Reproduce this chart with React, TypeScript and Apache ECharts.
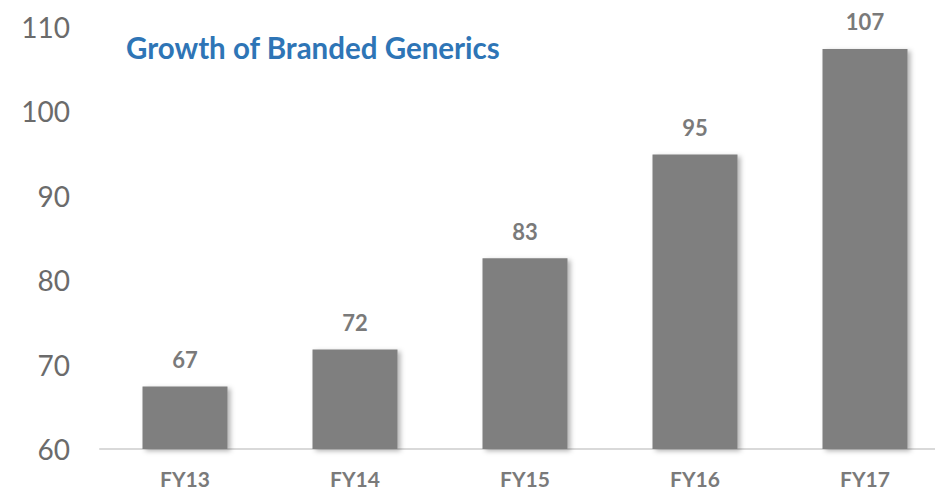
import React, { useEffect, useRef } from "react";
import * as echarts from "echarts";

const categories = ["FY13", "FY14", "FY15", "FY16", "FY17"];
const values = [67.4, 71.8, 82.6, 94.9, 107.4];
const labels = ["67", "72", "83", "95", "107"];
const titleText = "Growth of Branded Generics";

export default function App() {
  const ref = useRef<HTMLDivElement>(null);
  useEffect(() => {
    const chart = echarts.init(ref.current!, null, { renderer: "svg" });
    chart.setOption({
      animation: false,
      title: {
        text: titleText,
        left: 121,
        top: 27,
        textStyle: { fontFamily: "Lato", fontWeight: "bold", fontSize: 29.5, color: "#2E75B6" },
      },
      grid: { left: 100, right: 0, top: 27, bottom: 42, containLabel: false },
      xAxis: {
        type: "category",
        data: categories,
        axisLine: { lineStyle: { color: "#d9d9d9", width: 2 } },
        axisTick: { show: false },
        axisLabel: { fontFamily: "Lato", fontWeight: "bold", fontSize: 21, color: "#7a7a7a", margin: 19 },
      },
      yAxis: {
        type: "value",
        min: 60,
        max: 110,
        interval: 10,
        axisLine: { show: false },
        axisTick: { show: false },
        splitLine: { show: false },
        axisLabel: { fontFamily: "Lato", fontSize: 28, color: "#6b6b6b", margin: 30 },
      },
      series: [
        {
          type: "bar",
          data: values,
          barWidth: "50%",
          itemStyle: {
            color: "#7f7f7f",
            shadowBlur: 5,
            shadowOffsetX: 3,
            shadowOffsetY: 2,
            shadowColor: "rgba(0,0,0,0.3)",
          },
          label: {
            show: true,
            position: "top",
            distance: 16,
            formatter: (p: any) => labels[p.dataIndex],
            fontFamily: "Lato",
            fontWeight: "bold",
            fontSize: 22,
            color: "#7a7a7a",
          },
        },
      ],
    });
    return () => chart.dispose();
  }, []);
  return (
    <div style={{ width: 935, height: 491, position: "absolute", left: 0, top: 0, overflow: "hidden" }}>
      <div ref={ref} style={{ width: 950, height: 491 }} />
    </div>
  );
}
